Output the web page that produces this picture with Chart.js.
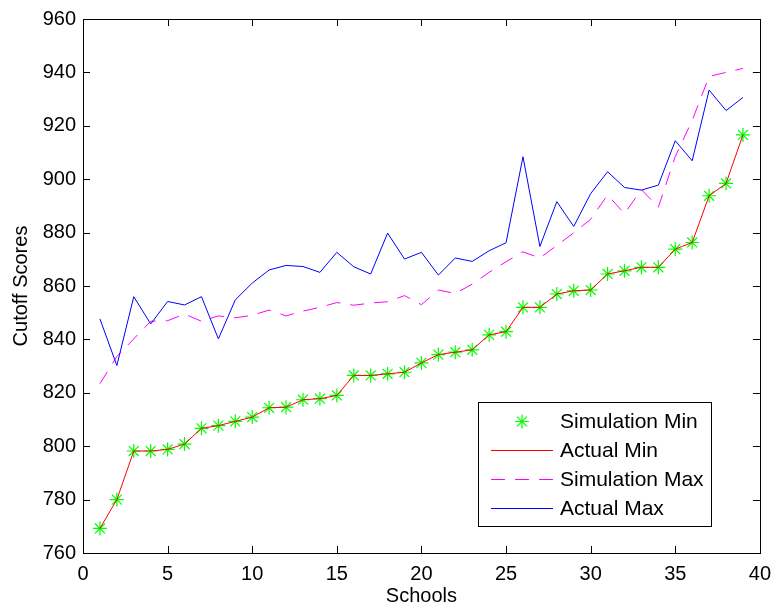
<!DOCTYPE html>
<html>
<head>
<meta charset="utf-8">
<script src="https://cdn.jsdelivr.net/npm/chart.js@4.4.1/dist/chart.umd.min.js"></script>
<style>
  body { margin: 0; background: #fff; }
  canvas { display: block; }
</style>
</head>
<body>
<canvas id="chart" width="780" height="610"></canvas>
<script>
// Data
const schools = [1, 2, 3, 4, 5, 6, 7, 8, 9, 10, 11, 12, 13, 14, 15, 16, 17, 18, 19, 20,
    21, 22, 23, 24, 25, 26, 27, 28, 29, 30, 31, 32, 33, 34, 35, 36, 37, 38, 39];
const simMin = [769.2, 780.0, 798.2, 798.2, 798.8, 800.8, 806.7, 807.7, 809.3, 810.9,
    814.4, 814.6, 817.4, 817.8, 819.0, 826.5, 826.5, 827.1, 827.7, 831.2,
    834.3, 835.2, 836.1, 841.7, 842.9, 852.0, 852.0, 857.0, 858.2, 858.5,
    864.5, 865.7, 867.0, 867.0, 873.8, 876.3, 893.8, 898.4, 916.6];
const actualMin = [769.2, 780.0, 798.2, 798.2, 798.8, 800.8, 806.7, 807.7, 809.3, 810.9,
    814.4, 814.6, 817.4, 817.8, 819.0, 826.5, 826.5, 827.1, 827.7, 831.2,
    834.3, 835.2, 836.1, 841.7, 842.9, 852.0, 852.0, 857.0, 858.2, 858.5,
    864.5, 865.7, 867.0, 867.0, 873.8, 876.3, 893.8, 898.4, 916.6];
const simMax = [823.4, 833.6, 840.2, 846.8, 847.0, 849.5, 846.8, 848.8, 848.1, 849.0,
    851.0, 848.8, 850.6, 852.0, 853.8, 852.8, 853.6, 854.1, 856.4, 853.0,
    858.5, 857.2, 860.7, 865.1, 869.1, 872.8, 870.5, 875.2, 879.9, 885.0,
    894.1, 887.1, 896.1, 889.5, 908.5, 922.0, 938.5, 940.0, 941.5];
const actualMax = [847.7, 830.2, 856.0, 845.8, 854.2, 852.9, 856.0, 840.2, 854.8, 861.1,
    866.0, 867.7, 867.3, 865.1, 872.6, 867.2, 864.5, 879.8, 870.1, 872.6,
    864.1, 870.5, 869.2, 873.2, 876.2, 908.4, 874.8, 891.6, 882.3, 894.6,
    902.8, 896.9, 895.9, 897.8, 914.4, 906.9, 933.4, 925.7, 930.6];
const xTicks = [0, 5, 10, 15, 20, 25, 30, 35, 40];
const yTicks = [760, 780, 800, 820, 840, 860, 880, 900, 920, 940, 960];

const FONT = "'Liberation Sans', Arial, Helvetica, sans-serif";

function pts(ys) {
    return schools.map((x, i) => ({ x: x, y: ys[i] }));
}

// Box around the plot with inward ticks on all four sides
const boxTicks = {
    id: 'boxTicks',
    afterDraw(chart) {
        const { ctx, chartArea: a, scales } = chart;
        const len = 7;
        ctx.save();
        ctx.strokeStyle = '#000';
        ctx.lineWidth = 1;
        ctx.beginPath();
        xTicks.forEach(v => {
            const px = Math.round(scales.x.getPixelForValue(v)) + 0.5;
            ctx.moveTo(px, a.bottom); ctx.lineTo(px, a.bottom - len);
            ctx.moveTo(px, a.top); ctx.lineTo(px, a.top + len);
        });
        yTicks.forEach(v => {
            const py = Math.round(scales.y.getPixelForValue(v)) + 0.5;
            ctx.moveTo(a.left, py); ctx.lineTo(a.left + len, py);
            ctx.moveTo(a.right, py); ctx.lineTo(a.right - len, py);
        });
        ctx.stroke();
        ctx.strokeRect(Math.round(a.left) + 0.5, Math.round(a.top) + 0.5,
            Math.round(a.right - a.left), Math.round(a.bottom - a.top));
        ctx.restore();
    }
};

// Legend box inside the plot, lower right
const boxLegend = {
    id: 'boxLegend',
    afterDraw(chart) {
        const ctx = chart.ctx;
        const x0 = 478, y0 = 402, w = 233, h = 124;
        const rows = [421.5, 450.5, 479.5, 508.5];
        ctx.save();
        ctx.fillStyle = '#fff';
        ctx.fillRect(x0, y0, w, h);
        ctx.strokeStyle = '#000';
        ctx.lineWidth = 1;
        ctx.strokeRect(x0 + 0.5, y0 + 0.5, w, h);
        chart.data.datasets.forEach((ds, i) => {
            const y = rows[i];
            if (ds.showLine === false) {
                ctx.strokeStyle = ds.pointBorderColor;
                ctx.lineWidth = 1.2;
                Chart.helpers.drawPoint(ctx, {
                    pointStyle: 'star', radius: 7, borderWidth: 1.2
                }, 522, y);
            } else {
                ctx.strokeStyle = ds.borderColor;
                ctx.lineWidth = 1;
                ctx.setLineDash(ds.borderDash || []);
                ctx.beginPath();
                ctx.moveTo(491, y);
                ctx.lineTo(553, y);
                ctx.stroke();
                ctx.setLineDash([]);
            }
            ctx.fillStyle = '#000';
            ctx.font = '21px ' + FONT;
            ctx.textBaseline = 'middle';
            ctx.textAlign = 'left';
            ctx.fillText(ds.label, 560, y + 1);
        });
        ctx.restore();
    }
};

const config = {
    type: 'scatter',
    data: {
        datasets: [{
            label: 'Simulation Min',
            data: pts(simMin),
            showLine: false,
            pointStyle: 'star',
            pointRadius: 7,
            pointBorderWidth: 1.2,
            pointBorderColor: '#00ff00',
            pointBackgroundColor: '#00ff00',
            order: 4
        }, {
            label: 'Actual Min',
            data: pts(actualMin),
            showLine: true,
            borderColor: '#ff0000',
            borderWidth: 1,
            pointRadius: 0,
            order: 3
        }, {
            label: 'Simulation Max',
            data: pts(simMax),
            showLine: true,
            borderColor: '#ff00ff',
            borderWidth: 1,
            borderDash: [14, 10],
            pointRadius: 0,
            order: 2
        }, {
            label: 'Actual Max',
            data: pts(actualMax),
            showLine: true,
            borderColor: '#0000ff',
            borderWidth: 1,
            pointRadius: 0,
            order: 1
        }]
    },
    options: {
        responsive: false,
        animation: false,
        layout: { padding: { left: 0, right: 12, top: 17, bottom: 0 } },
        plugins: {
            legend: { display: false },
            tooltip: { enabled: false }
        },
        scales: {
            x: {
                type: 'linear',
                min: 0,
                max: 40,
                afterBuildTicks: axis => { axis.ticks = xTicks.map(v => ({ value: v })); },
                afterFit: axis => { axis.height = 57; },
                grid: { display: false, drawTicks: false },
                border: { display: false },
                ticks: {
                    padding: 9,
                    color: '#000',
                    maxRotation: 0,
                    font: { size: 20, family: FONT }
                },
                title: {
                    display: true,
                    text: 'Schools',
                    color: '#000',
                    padding: { top: 0, bottom: 2 },
                    font: { size: 20, family: FONT }
                }
            },
            y: {
                min: 760,
                max: 960,
                afterBuildTicks: axis => { axis.ticks = yTicks.map(v => ({ value: v })); },
                afterFit: axis => { axis.width = 83; },
                grid: { display: false, drawTicks: false },
                border: { display: false },
                ticks: {
                    padding: 7,
                    color: '#000',
                    font: { size: 20, family: FONT }
                },
                title: {
                    display: true,
                    text: 'Cutoff Scores',
                    color: '#000',
                    padding: { top: 9, bottom: 0 },
                    font: { size: 20, family: FONT }
                }
            }
        }
    },
    plugins: [boxTicks, boxLegend]
};

const chart = new Chart(document.getElementById('chart').getContext('2d'), config);
</script>
</body>
</html>
